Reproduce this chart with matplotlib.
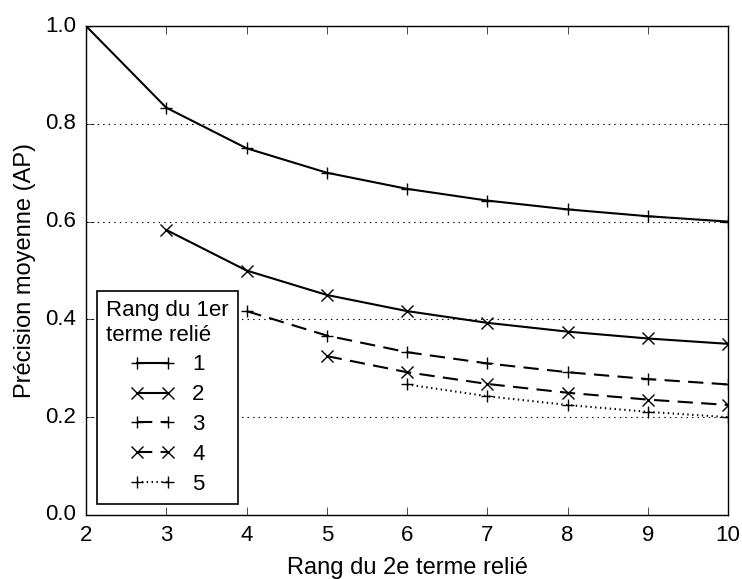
import matplotlib
matplotlib.use('Agg')
import matplotlib.pyplot as plt

plt.style.use('classic')
plt.rcParams['font.family'] = ['Liberation Sans', 'DejaVu Sans']

# AP values, one series per rank of the first linked term
rang1 = [1, 2, 3, 4, 5]
x1 = [2, 3, 4, 5, 6, 7, 8, 9, 10]
ap1 = [1.0, 0.833, 0.75, 0.7, 0.667, 0.643, 0.625, 0.611, 0.6]
x2 = [3, 4, 5, 6, 7, 8, 9, 10]
ap2 = [0.583, 0.5, 0.45, 0.417, 0.393, 0.375, 0.361, 0.35]
x3 = [4, 5, 6, 7, 8, 9, 10]
ap3 = [0.417, 0.367, 0.333, 0.31, 0.292, 0.278, 0.267]
x4 = [5, 6, 7, 8, 9, 10]
ap4 = [0.325, 0.292, 0.268, 0.25, 0.236, 0.225]
x5 = [6, 7, 8, 9, 10]
ap5 = [0.267, 0.243, 0.225, 0.211, 0.2]

dash = (11, 6)
dot = (1, 2.5)
series = [(x1, ap1, None, '+'), (x2, ap2, None, 'x'), (x3, ap3, dash, '+'),
          (x4, ap4, dash, 'x'), (x5, ap5, dot, '+')]

fig = plt.figure(figsize=(7.42, 5.79), dpi=100, facecolor='white')
ax = fig.add_axes([86/742, 64/579, 642/742, 489/579])

for r, (x, y, d, m) in zip(rang1, series):
    line, = ax.plot(x, y, color='black', marker=m, markersize=9,
                    markeredgewidth=1.0, linewidth=1.5, label=str(r))
    if d is not None:
        line.set_dashes(d)

ax.set_xlim(2, 10)
ax.set_ylim(0.0, 1.0)
ax.set_xticks(range(2, 11))
ax.set_yticks([0.0, 0.2, 0.4, 0.6, 0.8, 1.0])
ax.yaxis.grid(True, linestyle=':', color='black', linewidth=0.8)
ax.tick_params(labelsize=16, length=6, pad=7)
ax.set_xlabel('Rang du 2e terme relié', fontsize=17, labelpad=8)
ax.set_ylabel('Précision moyenne (AP)', fontsize=17, labelpad=7)

leg = ax.legend(loc='lower left', title='Rang du 1er\nterme relié', fontsize=16,
                numpoints=2, handlelength=2.0, borderaxespad=0.5, labelspacing=0.4,
                handletextpad=0.8)
leg.get_title().set_fontsize(16)
leg.get_title().set_multialignment('left')
leg.get_frame().set_linewidth(1.2)

fig.savefig('out.png', dpi=100, facecolor='white')
